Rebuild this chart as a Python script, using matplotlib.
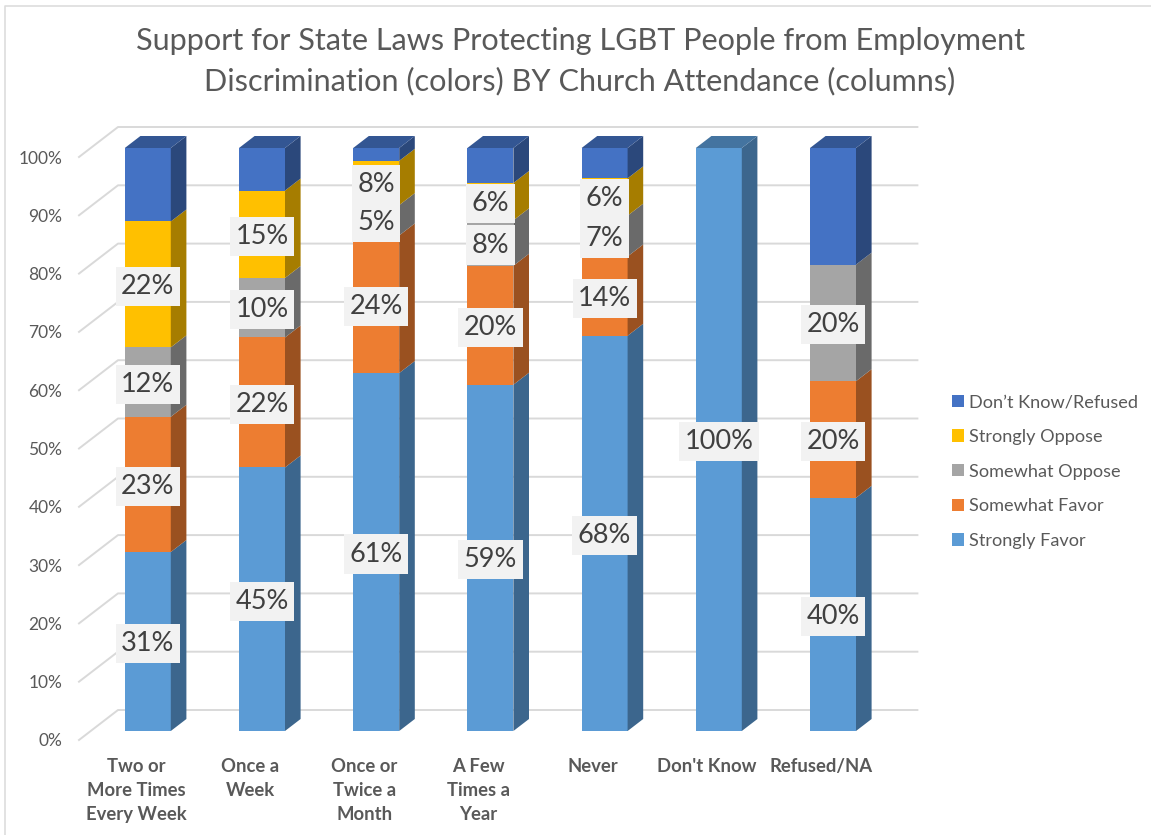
import matplotlib
matplotlib.use("Agg")
import matplotlib.pyplot as plt
from matplotlib.patches import Polygon, Patch
from matplotlib.colors import to_rgb
from matplotlib.lines import Line2D

categories = ["Two or\nMore Times\nEvery Week", "Once a\nWeek", "Once or\nTwice a\nMonth",
              "A Few\nTimes a\nYear", "Never", "Don't Know", "Refused/NA"]
strongly_favor = [30.7, 45.2, 61.4, 59.4, 67.8, 100, 40]
somewhat_favor = [23.2, 22.3, 23.6, 20.4, 13.6, 0, 20]
somewhat_oppose = [11.9, 10.2, 5.2, 7.8, 7.0, 0, 20]
strongly_oppose = [21.6, 15.0, 7.6, 6.4, 6.4, 0, 0]
dont_know = [12.6, 7.3, 2.2, 6.0, 5.2, 0, 20]
series_names = ["Strongly Favor", "Somewhat Favor", "Somewhat Oppose", "Strongly Oppose", "Don\u2019t Know/Refused"]
series = [strongly_favor, somewhat_favor, somewhat_oppose, strongly_oppose, dont_know]
labelled = [True, True, True, True, False]
colors = ["#5B9BD5", "#ED7D31", "#A5A5A5", "#FFC000", "#4472C4"]
side_shade = [0.66, 0.65, 0.64, 0.65, 0.63]
top_shade = 0.75

W, H = 1151, 835
plt.rcParams["font.family"] = ["Lato", "DejaVu Sans"]
GREY = "#595959"
fig = plt.figure(figsize=(W / 100, H / 100), dpi=100, facecolor="white")
fig.add_artist(Line2D([4.5 / W, 4.5 / W, 1], [0, 1 - 5.5 / H, 1 - 5.5 / H],
                      transform=fig.transFigure, color="#DDDDDD", lw=1.2))

# plot plane of the tick labels (front of the floor)
L, R, TOP, BOT = 79, 878.4, 157, 740
ax = fig.add_axes([L / W, 1 - BOT / H, (R - L) / W, (BOT - TOP) / H])
ax.set_xlim(-0.5, 6.5)
ax.set_ylim(0, 100)
for s in ax.spines.values():
    s.set_visible(False)
ax.patch.set_visible(False)

px_x = (R - L) / 7
px_y = (BOT - TOP) / 100
DEPTH_X, DEPTH_Y = 39, 30


def proj(x, v, d):
    return (x + DEPTH_X * d / px_x, v + DEPTH_Y * d / px_y)


yt = list(range(0, 101, 10))
ax.set_yticks(yt)
ax.set_yticklabels([f"{t}%" for t in yt], fontsize=12.5, color=GREY)
ax.set_xticks(range(len(categories)))
ax.set_xticklabels(categories, fontsize=13.3, color=GREY, fontweight="bold", linespacing=1.5)
ax.tick_params(axis="y", length=0, pad=12)
ax.tick_params(axis="x", length=0, pad=13)

# walls
for t in yt:
    a, b, c = proj(-0.5, t, 0), proj(-0.5, t, 1), proj(6.5, t, 1)
    ax.plot([a[0], b[0], c[0]], [a[1], b[1], c[1]], color="#D9D9D9", lw=1.4, clip_on=False, zorder=1)


def shade(c, f):
    return tuple(x * f for x in to_rgb(c))


HW = 23 / px_x
D0, D1 = 0.3, 0.7
for i in range(len(categories)):
    base = 0
    top_idx = max(k for k in range(5) if series[k][i] > 0)
    for k, vals in enumerate(series):
        v = vals[i]
        if v <= 0:
            continue
        t = base + v
        x0, x1 = i - HW, i + HW
        ax.add_patch(Polygon([proj(x0, base, D0), proj(x1, base, D0), proj(x1, t, D0), proj(x0, t, D0)],
                             fc=colors[k], ec="none", clip_on=False, zorder=3))
        ax.add_patch(Polygon([proj(x1, base, D0), proj(x1, base, D1), proj(x1, t, D1), proj(x1, t, D0)],
                             fc=shade(colors[k], side_shade[k]), ec="none", clip_on=False, zorder=3))
        if k == top_idx:
            ax.add_patch(Polygon([proj(x0, t, D0), proj(x1, t, D0), proj(x1, t, D1), proj(x0, t, D1)],
                                 fc=shade(colors[k], top_shade), ec="none", clip_on=False, zorder=3))
        if labelled[k]:
            cx, cy = proj(i, base + v / 2, D0)
            ax.text(cx, cy - 2 / px_y, f"{round(v)}%", ha="center", va="center", fontsize=19.5, color="#404040",
                    zorder=5, bbox=dict(boxstyle="square,pad=0.2", fc="#F2F2F2", ec="none", mutation_aspect=1.3))
        base = t

handles = [Patch(fc=colors[k], ec="none", label=series_names[k]) for k in range(4, -1, -1)]
leg = fig.legend(handles=handles, loc="center left", bbox_to_anchor=(952 / W, 1 - 471.5 / H), frameon=False,
                 fontsize=13.1, labelcolor=GREY, handlelength=0.66, handleheight=0.66, handletextpad=0.25,
                 labelspacing=1.03, borderpad=0, borderaxespad=0)

fig.text(580 / W, 1 - 61 / H,
         "Support for State Laws Protecting LGBT People from Employment\n"
         "Discrimination (colors) BY Church Attendance (columns)",
         ha="center", va="center", fontsize=22.1, color=GREY, linespacing=1.5)

fig.savefig("out.png", dpi=100, facecolor="white")
